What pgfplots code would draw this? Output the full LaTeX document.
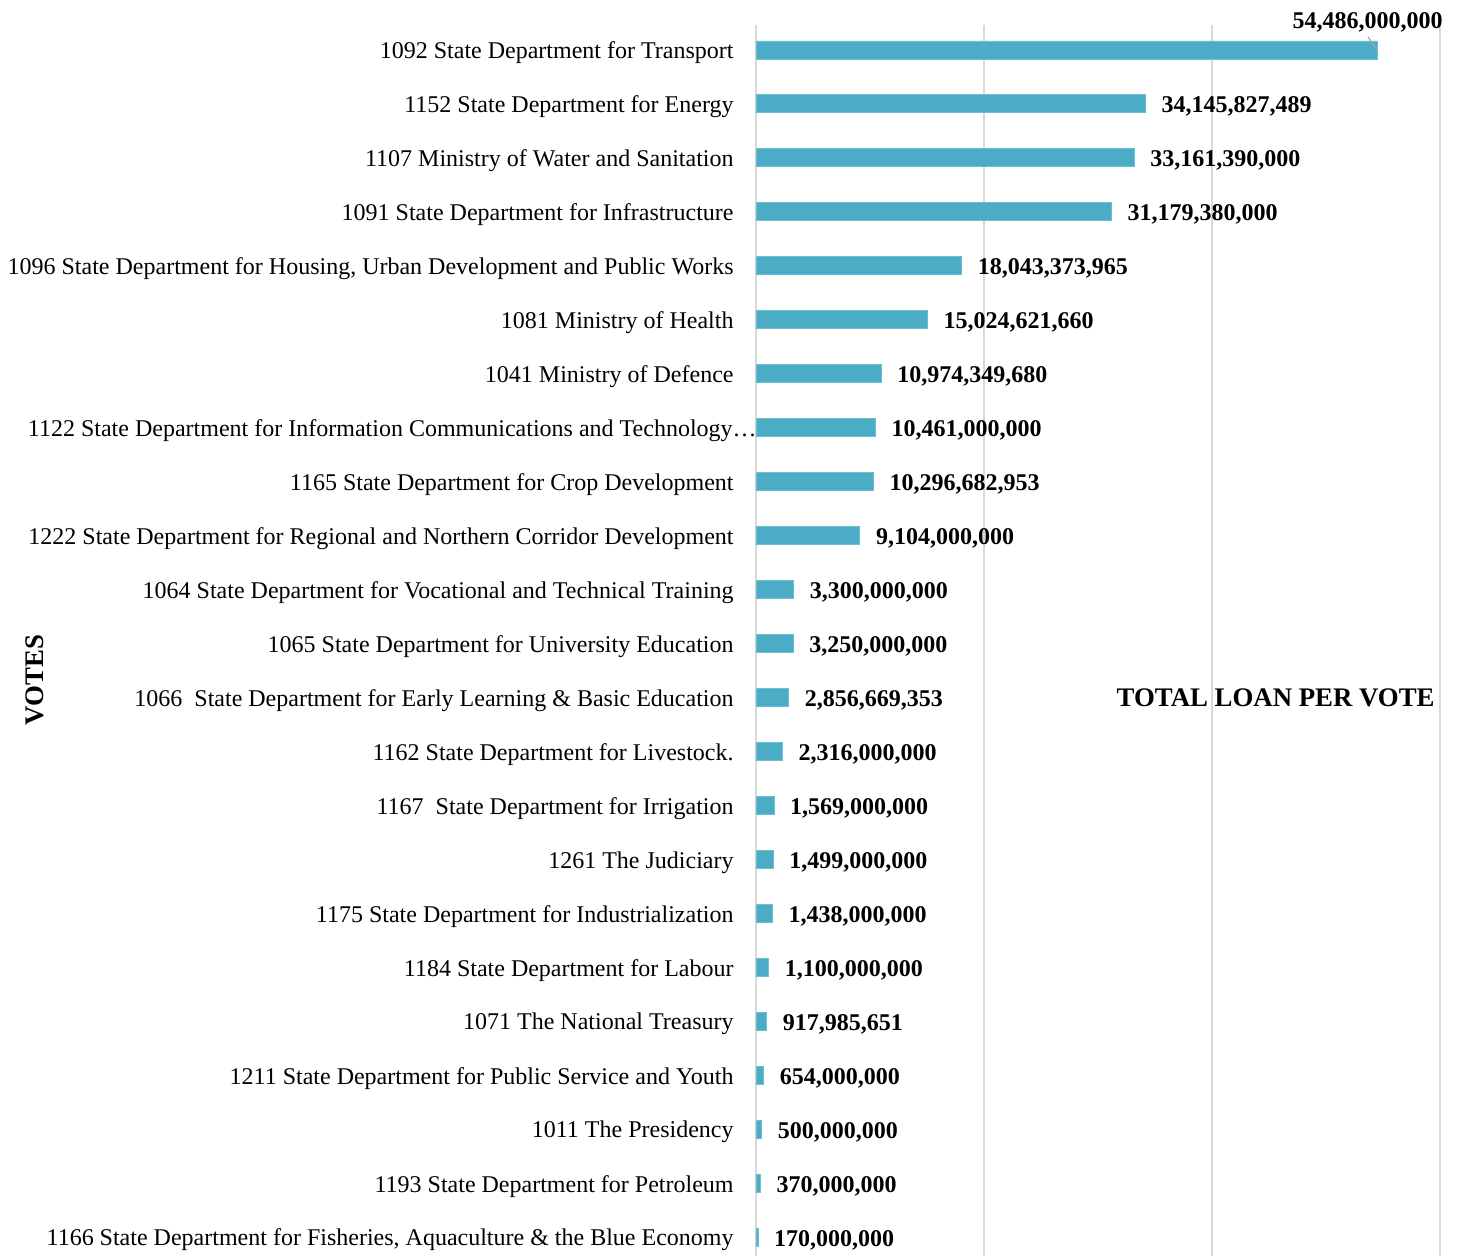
\documentclass[border=0pt]{standalone}
\usepackage{fontspec}
\setmainfont{Liberation Serif}
\usepackage{pgfplots}
\usepackage{pgfplotstable}
\pgfplotsset{compat=1.18}
\definecolor{barc}{HTML}{4BACC6}
\definecolor{gridc}{HTML}{D9D9D9}
\pgfplotstableread{
idx val lbl
0 54.486 {}
1 34.145827489 34,145,827,489
2 33.16139 33,161,390,000
3 31.17938 31,179,380,000
4 18.043373965 18,043,373,965
5 15.02462166 15,024,621,660
6 10.97434968 10,974,349,680
7 10.461 10,461,000,000
8 10.296682953 10,296,682,953
9 9.104 9,104,000,000
10 3.3 3,300,000,000
11 3.25 3,250,000,000
12 2.856669353 2,856,669,353
13 2.316 2,316,000,000
14 1.569 1,569,000,000
15 1.499 1,499,000,000
16 1.438 1,438,000,000
17 1.1 1,100,000,000
18 0.917985651 917,985,651
19 0.654 654,000,000
20 0.5 500,000,000
21 0.37 370,000,000
22 0.17 170,000,000
}\data
\begin{document}
\begin{tikzpicture}
\begin{axis}[
  at={(0,0)}, anchor=south west,
  scale only axis, width=342pt, height=615.5pt,
  xmin=0, xmax=60, ymin=-0.46, ymax=22.35, y dir=reverse,
  xbar, bar width=9pt,
  axis line style={draw=none},
  major tick length=0pt,
  xtick={0,20,40,60}, xticklabels={},
  xmajorgrids, grid style={gridc, line width=1pt},
  ytick={0,...,22},
  yticklabels={
    1092 State Department for Transport,
    1152 State Department for Energy,
    1107 Ministry of Water and Sanitation,
    1091 State Department for Infrastructure,
    {1096 State Department for Housing, Urban Development and Public Works},
    1081 Ministry of Health,
    1041 Ministry of Defence,
    {1122 State Department for Information Communications and Technology…\hspace*{-11.5pt}},
    1165 State Department for Crop Development,
    1222 State Department for Regional and Northern Corridor Development,
    1064 State Department for Vocational and Technical Training,
    1065 State Department for University Education,
    {1066\ \ State Department for Early Learning \& Basic Education},
    1162 State Department for Livestock.,
    {1167\ \ State Department for Irrigation},
    1261 The Judiciary,
    1175 State Department for Industrialization,
    1184 State Department for Labour,
    1071 The National Treasury,
    1211 State Department for Public Service and Youth,
    1011 The Presidency,
    1193 State Department for Petroleum,
    {1166 State Department for Fisheries, Aquaculture \& the Blue Economy}
  },
  yticklabel style={font=\fontsize{12}{14}\selectfont, inner sep=0pt, xshift=-11pt, yshift=-1.5pt},
  nodes near coords,
  point meta=explicit symbolic,
  nodes near coords style={font=\fontsize{12}{14}\selectfont\bfseries, anchor=west, inner sep=0pt, xshift=8pt, yshift=-1.5pt},
  clip=false,
]
\addplot[fill=barc, draw=barc!80!white, line width=0.3pt] table[x=val, y=idx, meta=lbl] {\data};
\node[font=\fontsize{12}{14}\selectfont\bfseries, anchor=east, inner sep=0pt] at (axis cs:60.26,-0.51) {54,486,000,000};
\draw[gray!70, line width=0.6pt] (axis cs:53.68,-0.24) -- (axis cs:54.47,0);
\node[font=\fontsize{13.4}{15}\selectfont\bfseries, anchor=east, inner sep=0pt] at (axis cs:59.56,12) {TOTAL LOAN PER VOTE};
\node[font=\fontsize{13.4}{15}\selectfont\bfseries, rotate=90, inner sep=0pt] at (axis cs:-63.25,11.68) {VOTES};
\end{axis}
\pgfresetboundingbox
\path (-378pt,0pt) rectangle (352pt,628pt);
\end{tikzpicture}
\end{document}
